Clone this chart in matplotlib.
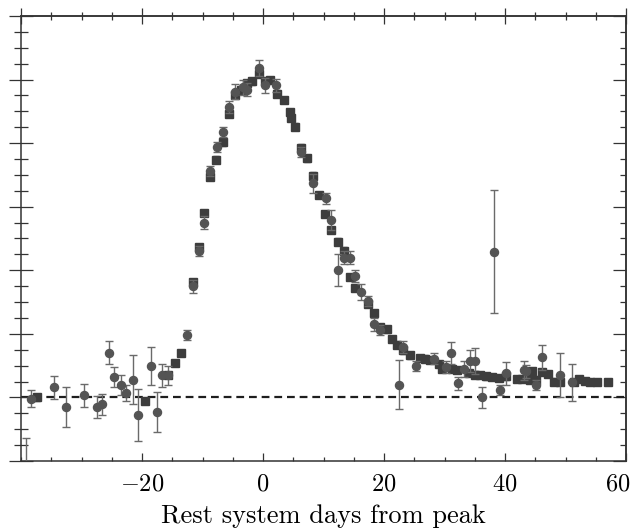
import numpy as np
import matplotlib
matplotlib.use("Agg")
import matplotlib.pyplot as plt
from matplotlib.transforms import ScaledTranslation

plt.rcParams['font.family'] = 'serif'
plt.rcParams['font.serif'] = ['cmr10', 'DejaVu Serif']
plt.rcParams['mathtext.fontset'] = 'cm'
plt.rcParams['axes.formatter.use_mathtext'] = True

# circles: days from peak, flux, error
circ_x = [-39.1, -38.4, -34.6, -32.5, -29.6, -27.5, -26.6, -25.5, -24.6, -23.5,
          -22.6, -21.5, -20.6, -18.5, -17.6, -16.7, -15.7, -12.6, -11.6, -10.6,
          -9.8, -8.7, -7.6, -6.7, -5.7, -4.6, -3.3, -2.7, -0.7, 0.3,
          2.2, 6.3, 8.2, 10.4, 11.3, 12.3, 13.3, 14.3, 15.2, 16.2,
          17.3, 18.3, 19.4, 22.4, 23.1, 25.2, 28.2, 30.2, 31.1, 32.2,
          33.2, 34.2, 35.1, 36.2, 38.1, 39.2, 40.2, 43.1, 43.5, 45.1,
          46.1, 49.0, 51.1]
circ_y = [-1.3, -0.02, 0.16, -0.15, 0.03, -0.15, -0.11, 0.70, 0.32, 0.20,
          0.07, 0.28, -0.27, 0.50, -0.23, 0.35, 0.35, 0.98, 1.75, 2.30,
          2.75, 3.56, 3.94, 4.18, 4.57, 4.81, 4.88, 4.84, 5.18, 4.91,
          4.91, 3.86, 3.37, 3.13, 2.79, 2.00, 2.20, 2.20, 1.91, 1.66,
          1.51, 1.15, 1.06, 0.20, 0.79, 0.50, 0.61, 0.48, 0.70, 0.22,
          0.45, 0.57, 0.57, 0.00, 2.29, 0.11, 0.38, 0.43, 0.41, 0.19,
          0.63, 0.35, 0.24]
circ_err = [0.66, 0.13, 0.18, 0.31, 0.18, 0.17, 0.16, 0.18, 0.16, 0.16,
            0.12, 0.39, 0.41, 0.30, 0.31, 0.18, 0.15, 0.08, 0.10, 0.08,
            0.10, 0.08, 0.08, 0.08, 0.10, 0.12, 0.12, 0.10, 0.12, 0.12,
            0.10, 0.08, 0.15, 0.08, 0.15, 0.25, 0.10, 0.10, 0.10, 0.12,
            0.08, 0.10, 0.08, 0.39, 0.09, 0.08, 0.09, 0.10, 0.17, 0.10,
            0.13, 0.17, 0.20, 0.17, 0.97, 0.08, 0.18, 0.15, 0.10, 0.08,
            0.20, 0.35, 0.29]

# squares: days from peak, flux, error
sq_x = [-37.3, -19.5, -15.7, -14.6, -13.6, -11.6, -10.6, -9.8, -8.7, -7.7,
        -6.7, -5.7, -4.6, -3.6, -2.7, -1.8, -0.7, 0.3, 1.2, 2.3,
        3.4, 4.4, 4.6, 5.3, 6.3, 7.3, 8.2, 9.3, 10.3, 11.3,
        12.3, 13.3, 14.3, 15.2, 17.3, 18.3, 19.4, 20.4, 21.3, 22.2,
        23.2, 24.3, 26.0, 26.8, 27.6, 29.0, 29.6, 31.2, 32.1, 34.0,
        35.1, 35.9, 36.9, 37.9, 39.0, 40.2, 42.0, 42.8, 44.1, 44.4,
        45.1, 46.1, 47.0, 48.1, 49.1, 51.3, 52.2, 53.2, 54.1, 55.1,
        57.0]
sq_y = [0.00, -0.06, 0.35, 0.54, 0.70, 1.82, 2.36, 2.90, 3.47, 3.74,
        4.01, 4.46, 4.76, 4.83, 4.94, 4.97, 5.09, 4.98, 4.99, 4.78,
        4.68, 4.49, 4.39, 4.26, 3.93, 3.76, 3.49, 3.18, 2.88, 2.63,
        2.45, 2.31, 1.89, 1.72, 1.47, 1.32, 1.11, 1.07, 0.92, 0.83,
        0.74, 0.66, 0.62, 0.61, 0.59, 0.53, 0.45, 0.45, 0.43, 0.38,
        0.36, 0.35, 0.33, 0.32, 0.31, 0.33, 0.29, 0.29, 0.28, 0.42,
        0.28, 0.40, 0.37, 0.25, 0.25, 0.24, 0.29, 0.26, 0.24, 0.24,
        0.24]
sq_err = [0.05] * len(sq_x)

fig = plt.figure(figsize=(6.37, 5.32), dpi=100)
ax = fig.add_axes([0.033, 0.1335, 0.95, 0.8365])

ax.axhline(0, color='#1e1e1e', lw=1.6, ls=(0, (3.5, 2.2)), zorder=1)

ax.errorbar(sq_x, sq_y, yerr=sq_err, fmt='s', ms=5.8, color='#3d3d3d',
            ecolor='#606060', elinewidth=1.0, capsize=2.5, capthick=1.0, zorder=3)
ax.errorbar(circ_x, circ_y, yerr=circ_err, fmt='o', ms=5.8, color='#545454',
            ecolor='#6a6a6a', elinewidth=1.0, capsize=2.8, capthick=1.0, zorder=4)

ax.set_xlim(-40, 60)
ax.set_ylim(-1, 6)
ax.set_xticks([-20, 0, 20, 40, 60])
ax.set_xticks(np.arange(-40, 61, 5), minor=True)
ax.set_yticks(np.arange(-1, 7, 1))
ax.set_yticks(np.arange(-1, 6.01, 0.25), minor=True)
ax.set_yticklabels([])

for s in ax.spines.values():
    s.set_color('#333333')
    s.set_linewidth(1.1)

ax.tick_params(axis='x', which='major', direction='in', length=6, width=0.9,
               color='#333333', labelsize=17.5, pad=9, top=False)
ax.tick_params(axis='x', which='minor', direction='in', length=3, width=0.9,
               color='#333333', top=False)
ax.tick_params(axis='y', which='major', direction='inout', length=17, width=0.9,
               color='#333333', right=False)
ax.tick_params(axis='y', which='minor', direction='inout', length=9.5, width=0.9,
               color='#333333', right=False)

# the last label sits slightly left so it stays inside the figure
last = ax.xaxis.get_major_ticks()[-1].label1
last.set_transform(last.get_transform() + ScaledTranslation(-8 / 100, 0, fig.dpi_scale_trans))

top = ax.secondary_xaxis('top')
top.set_xticks([-40, -20, 0, 20, 40, 60])
top.set_xticks(np.arange(-40, 61, 5), minor=True)
top.set_xticklabels([])
top.tick_params(which='major', direction='inout', length=11.5, width=0.9, color='#333333')
top.tick_params(which='minor', direction='inout', length=6, width=0.9, color='#333333')
top.spines['top'].set_linewidth(1.1)
top.spines['top'].set_color('#333333')

right = ax.secondary_yaxis('right')
right.set_yticks(np.arange(-1, 7, 1))
right.set_yticks(np.arange(-1, 6.01, 0.25), minor=True)
right.set_yticklabels([])
right.tick_params(which='major', direction='in', length=9.5, width=0.9, color='#333333')
right.tick_params(which='minor', direction='in', length=4.5, width=0.9, color='#333333')
right.spines['right'].set_linewidth(1.1)
right.spines['right'].set_color('#333333')

ax.set_xlabel('Rest system days from peak', fontsize=19, labelpad=6)

fig.savefig('out.png', dpi=100)
